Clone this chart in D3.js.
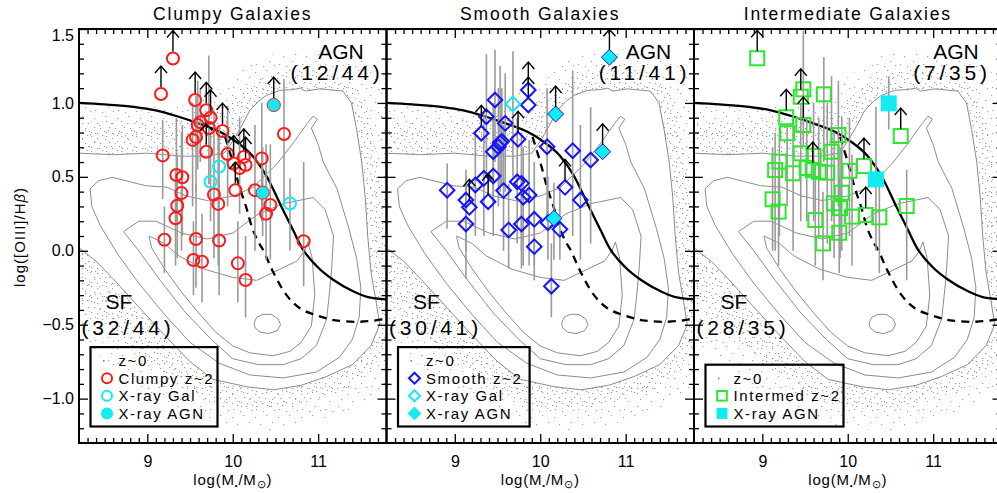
<!DOCTYPE html>
<html><head><meta charset="utf-8">
<script src="https://cdn.jsdelivr.net/npm/d3@7/dist/d3.min.js"></script>
<style>
html,body{margin:0;padding:0;background:#fff;}
svg{display:block;}
text{font-family:"Liberation Sans",Arial,Helvetica,sans-serif;fill:#000;}
</style></head><body>
<svg id="chart" width="997" height="493"></svg>
<script>
// ================= DATA =================
const panelTitles = ["Clumpy Galaxies", "Smooth Galaxies", "Intermediate Galaxies"];
const agnLabels = ["(12/44)", "(11/41)", "(7/35)"];
const sfLabels = ["(32/44)", "(30/41)", "(28/35)"];
const xTickValues = [9, 10, 11];
const xTickLabels = ["9", "10", "11"];
const yTickValues = [-1.0, -0.5, 0.0, 0.5, 1.0, 1.5];
const yTickLabels = ["\u22121.0", "\u22120.5", "0.0", "0.5", "1.0", "1.5"];
const legendLabels = [
  ["z~0", "Clumpy z~2", "X-ray Gal", "X-ray AGN"],
  ["z~0", "Smooth z~2", "X-ray Gal", "X-ray AGN"],
  ["z~0", "Intermed z~2", "X-ray AGN"]];

// MEx demarcation curves
const solidX = [8.2, 8.5, 8.84, 9.1, 9.35, 9.62, 9.85, 10.01, 10.24, 10.40, 10.56, 10.71, 10.81, 10.99, 11.18, 11.42, 11.57, 11.8];
const solidY = [1.0, 0.99, 0.974, 0.95, 0.91, 0.857, 0.805, 0.749, 0.636, 0.501, 0.31, 0.135, 0.02, -0.108, -0.198, -0.277, -0.311, -0.328];
const dashX = [9.91, 10.0, 10.08, 10.16, 10.23, 10.3, 10.36, 10.47, 10.63, 10.79, 11.0, 11.2, 11.5, 11.8];
const dashY = [0.77, 0.6, 0.43, 0.29, 0.15, 0.06, 0.0, -0.14, -0.3, -0.39, -0.44, -0.47, -0.48, -0.46];

// z~0 contours
const c1X = [8.2, 8.6, 9.0, 9.4, 9.7, 9.9, 10.0, 10.1, 10.2, 10.3, 10.39, 10.55, 10.7, 10.79, 10.85, 11.02, 11.29, 11.39, 11.45, 11.51, 11.55, 11.58, 11.62, 11.68, 11.72, 11.62, 11.4, 11.1, 10.8, 10.48, 10.17, 9.77, 9.5, 9.2, 8.9, 8.6, 8.4, 8.2];
const c1Y = [0.66, 0.65, 0.66, 0.64, 0.64, 0.66, 0.74, 0.84, 0.95, 1.01, 1.05, 1.085, 1.09, 1.1, 1.08, 1.095, 1.08, 1.0, 0.82, 0.6, 0.37, 0.1, -0.15, -0.35, -0.5, -0.64, -0.77, -0.85, -0.91, -0.94, -0.92, -0.87, -0.75, -0.57, -0.38, -0.19, -0.07, 0.02];
const c2X = [8.33, 8.43, 8.59, 8.79, 8.98, 9.23, 9.46, 9.7, 10.0, 10.24, 10.52, 10.71, 10.87, 10.94, 10.99, 10.92, 11.0, 11.06, 11.22, 11.36, 11.45, 11.5, 11.48, 11.4, 11.25, 10.98, 10.59, 10.2, 9.84, 9.5, 9.2, 8.9, 8.65, 8.45, 8.35, 8.33];
const c2Y = [0.42, 0.474, 0.497, 0.468, 0.44, 0.43, 0.37, 0.34, 0.37, 0.43, 0.59, 0.73, 0.86, 0.91, 0.89, 0.83, 0.72, 0.6, 0.42, 0.15, -0.05, -0.25, -0.45, -0.6, -0.72, -0.82, -0.86, -0.84, -0.76, -0.62, -0.43, -0.22, -0.02, 0.17, 0.3, 0.42];
const c3X = [8.72, 8.9, 9.1, 9.4, 9.7, 10.0, 10.3, 10.6, 10.94, 11.08, 11.18, 11.16, 11.14, 11.1, 10.98, 10.8, 10.59, 10.3, 10.0, 9.75, 9.45, 9.15, 8.9, 8.72];
const c3Y = [0.13, 0.2, 0.2, 0.12, 0.08, 0.12, 0.25, 0.32, 0.36, 0.28, 0.1, -0.1, -0.24, -0.46, -0.64, -0.73, -0.77, -0.77, -0.73, -0.6, -0.42, -0.2, 0.0, 0.13];
const c4X = [9.02, 9.2, 9.37, 9.67, 10.0, 10.28, 10.55, 10.75, 10.84, 10.88, 10.93, 10.96, 10.92, 10.8, 10.67, 10.47, 10.2, 10.0, 9.8, 9.6, 9.4, 9.2, 9.05, 9.02];
const c4Y = [0.1, 0.05, -0.035, -0.125, -0.18, -0.2, -0.125, -0.07, 0.0, 0.06, -0.05, -0.3, -0.51, -0.62, -0.68, -0.71, -0.69, -0.644, -0.55, -0.42, -0.28, -0.12, 0.02, 0.1];
const c5X = [10.25, 10.28, 10.35, 10.45, 10.53, 10.56, 10.52, 10.42, 10.32, 10.26, 10.25];
const c5Y = [-0.49, -0.45, -0.43, -0.43, -0.46, -0.5, -0.54, -0.56, -0.55, -0.52, -0.49];
// extent of the z~0 point cloud outside the outer contour (dense and sparse parts)
const denseX = [8.2, 8.5, 8.9, 9.3, 9.6, 9.85, 10.0, 10.15, 10.3, 10.5, 10.8, 11.1, 11.35, 11.5, 11.62, 11.7, 11.75, 11.8, 11.8, 11.6, 11.3, 10.9, 10.5, 10.1, 9.7, 9.3, 8.9, 8.5, 8.2];
const denseY = [0.87, 0.88, 0.88, 0.89, 0.9, 0.95, 1.02, 1.1, 1.16, 1.2, 1.22, 1.21, 1.17, 1.08, 0.9, 0.6, 0.3, 0.0, -0.65, -0.82, -0.95, -1.02, -1.06, -1.07, -1.02, -0.88, -0.7, -0.5, -0.35];
const sparseX = [8.2, 8.8, 9.4, 9.8, 10.1, 10.4, 10.8, 11.2, 11.5, 11.7, 11.8, 11.8, 11.5, 11.0, 10.5, 10.0, 9.5, 9.0, 8.6, 8.2];
const sparseY = [0.97, 0.98, 1.0, 1.08, 1.22, 1.32, 1.36, 1.36, 1.3, 1.2, 1.1, -0.9, -1.05, -1.15, -1.22, -1.2, -1.12, -0.95, -0.78, -0.6];

// Clumpy galaxies (type: 0 = galaxy, 1 = X-ray Gal, 2 = X-ray AGN; lim: 1 = lower limit)
const clumpyX = [9.30, 9.16, 9.56, 9.69, 9.74, 9.59, 9.72, 9.88, 9.57, 9.53, 9.69, 9.18, 9.94, 10.01, 10.13, 10.15, 10.34, 10.60, 9.34, 9.41, 9.40, 9.35, 9.33, 9.78, 9.83, 10.03, 10.26, 10.44, 10.39, 9.20, 9.57, 9.84, 10.83, 9.54, 9.64, 10.06, 10.15, 9.62, 10.08, 9.84, 9.74, 10.67, 10.48, 10.35];
const clumpyY = [1.30, 1.06, 1.02, 0.95, 0.90, 0.85, 0.83, 0.81, 0.77, 0.75, 0.67, 0.645, 0.655, 0.59, 0.635, 0.58, 0.625, 0.79, 0.513, 0.497, 0.39, 0.305, 0.22, 0.38, 0.317, 0.41, 0.41, 0.31, 0.25, 0.075, 0.08, 0.07, 0.065, -0.062, -0.074, -0.085, -0.198, 0.87, 0.56, 0.57, 0.467, 0.32, 0.986, 0.393];
const clumpyLo = [null, null, null, null, null, 0.55, 0.45, null, 0.40, 0.30, null, 0.35, 0.30, null, null, null, 0.20, 0.30, 0.20, 0.10, 0.00, -0.05, -0.10, -0.05, -0.10, null, 0.00, -0.06, -0.06, -0.15, -0.25, -0.30, -0.24, -0.30, -0.35, -0.35, -0.45, 0.60, 0.25, 0.30, 0.20, 0.00, null, 0.10];
const clumpyHi = [null, null, null, null, null, 1.15, 1.32, null, 1.05, 1.00, null, 0.88, 0.98, null, null, null, 1.00, 1.16, 0.90, 0.85, 0.80, 0.65, 0.55, 0.95, 0.80, null, 0.85, 0.72, 0.72, 0.30, 0.45, 0.50, 0.60, 0.20, 0.25, 0.20, 0.10, 1.10, 0.90, 0.85, 0.80, 0.49, null, 0.70];
const clumpyLim = [1, 1, 1, 1, 1, 0, 0, 1, 0, 0, 1, 0, 0, 1, 1, 1, 0, 0, 0, 0, 0, 0, 0, 0, 0, 1, 0, 0, 0, 0, 0, 0, 0, 0, 0, 0, 0, 0, 0, 0, 0, 0, 1, 0];
const clumpyType = [0, 0, 0, 0, 0, 0, 0, 0, 0, 0, 0, 0, 0, 0, 0, 0, 0, 0, 0, 0, 0, 0, 0, 0, 0, 0, 0, 0, 0, 0, 0, 0, 0, 0, 0, 0, 0, 0, 0, 1, 1, 1, 2, 2];

// Smooth galaxies
const smoothX = [10.81, 9.86, 9.47, 9.68, 9.86, 10.18, 9.37, 9.59, 9.31, 9.74, 9.53, 9.51, 9.45, 10.08, 10.38, 10.73, 10.59, 9.45, 9.34, 9.24, 8.91, 9.13, 9.17, 9.39, 9.57, 9.73, 9.78, 9.80, 9.87, 10.29, 10.47, 9.13, 9.63, 9.78, 9.93, 10.16, 10.09, 10.23, 9.93, 10.13, 9.55];
const smoothY = [1.309, 1.087, 1.02, 0.993, 0.986, 0.925, 0.907, 0.862, 0.795, 0.754, 0.731, 0.704, 0.670, 0.704, 0.677, 0.670, 0.614, 0.506, 0.49, 0.445, 0.41, 0.343, 0.294, 0.332, 0.407, 0.467, 0.456, 0.362, 0.377, 0.429, 0.343, 0.181, 0.141, 0.181, 0.213, 0.220, 0.19, 0.145, 0.028, -0.24, 0.74];
const smoothLo = [null, null, 0.60, 0.50, null, null, 0.50, 0.40, null, null, 0.40, 0.30, 0.30, 0.20, 0.10, null, 0.05, 0.10, 0.10, 0.10, 0.15, 0.00, null, null, 0.00, 0.05, 0.00, -0.10, -0.10, null, -0.06, -0.19, -0.12, -0.12, -0.10, -0.06, -0.06, -0.06, -0.20, -0.45, 0.45];
const smoothHi = [null, null, 1.36, 1.35, null, null, 1.33, 1.20, null, null, 1.25, 1.10, 1.00, 1.10, 1.22, null, 0.97, 0.90, 0.95, 0.80, 0.59, 0.55, null, null, 0.85, 0.90, 0.80, 0.70, 0.75, null, 0.85, 0.50, 0.45, 0.55, 0.60, 0.46, 0.50, 0.45, 0.30, 0.05, 1.10];
const smoothLim = [1, 1, 0, 0, 1, 1, 0, 0, 1, 1, 0, 0, 0, 0, 0, 1, 0, 0, 0, 0, 0, 0, 1, 1, 0, 0, 0, 0, 0, 1, 0, 0, 0, 0, 0, 0, 0, 0, 0, 0, 0];
const smoothType = [2, 0, 0, 1, 0, 2, 0, 0, 0, 0, 0, 0, 0, 0, 0, 2, 0, 0, 0, 0, 0, 0, 0, 0, 0, 0, 0, 0, 0, 0, 0, 0, 0, 0, 0, 2, 0, 0, 0, 0, 0];

// Intermediate galaxies
const interX = [8.94, 9.48, 9.45, 9.72, 10.48, 9.28, 9.48, 9.29, 9.89, 10.62, 9.45, 9.81, 9.60, 9.20, 9.15, 9.36, 9.59, 9.66, 9.76, 10.02, 10.19, 10.33, 9.12, 9.19, 9.93, 9.84, 9.91, 10.05, 10.21, 10.37, 10.69, 9.62, 9.90, 9.71, 9.52];
const interY = [1.302, 1.092, 1.042, 1.058, 0.997, 0.903, 0.851, 0.795, 0.783, 0.776, 0.659, 0.670, 0.641, 0.603, 0.546, 0.524, 0.546, 0.535, 0.528, 0.541, 0.573, 0.483, 0.348, 0.265, 0.393, 0.321, 0.288, 0.231, 0.242, 0.226, 0.303, 0.208, 0.122, 0.05, 0.56];
const interLo = [null, 0.70, null, 0.60, 0.82, null, null, 0.30, 0.30, null, 0.20, 0.20, 0.20, 0.10, 0.00, 0.00, null, 0.10, 0.05, 0.10, null, 0.00, 0.00, -0.10, 0.00, -0.05, -0.05, -0.10, null, -0.15, -0.20, -0.10, -0.15, -0.20, 0.20];
const interHi = [null, 1.49, null, 1.31, 1.18, null, null, 0.84, 1.15, null, 1.00, 1.18, 1.00, 0.84, 0.80, 0.90, null, 0.90, 1.00, 0.90, null, 0.975, 0.70, 0.60, 0.90, 0.80, 0.70, 0.65, null, 0.50, 0.546, 0.60, 0.50, 0.40, 0.90];
const interLim = [1, 0, 1, 0, 0, 1, 1, 0, 0, 1, 0, 0, 0, 0, 0, 0, 1, 0, 0, 0, 1, 0, 0, 0, 0, 0, 0, 0, 1, 0, 0, 0, 0, 0, 0];
const interType = [0, 0, 0, 0, 2, 0, 0, 0, 0, 0, 0, 0, 0, 0, 0, 0, 0, 0, 0, 0, 0, 2, 0, 0, 0, 0, 0, 0, 0, 0, 0, 0, 0, 0, 0];

// ================= LAYOUT / STYLE =================
const PL = [79, 386.5, 694], PW = 307.5, TOP = 29, BOT = 443;
const CYAN = "#12ecf0";
const panels = [
  {X: clumpyX, Y: clumpyY, lo: clumpyLo, hi: clumpyHi, lim: clumpyLim, type: clumpyType, shape: "circle", color: "#ff1a1a", box: 127},
  {X: smoothX, Y: smoothY, lo: smoothLo, hi: smoothHi, lim: smoothLim, type: smoothType, shape: "diamond", color: "#1414ff", box: 131.6},
  {X: interX, Y: interY, lo: interLo, hi: interHi, lim: interLim, type: interType, shape: "square", color: "#2ee62e", box: 138}
];

const svg = d3.select("#chart");
svg.append("rect").attr("width", 997).attr("height", 493).attr("fill", "#fff");
const defs = svg.append("defs");

function makePattern(id, size, pts, col) {
  const p = defs.append("pattern").attr("id", id).attr("patternUnits", "userSpaceOnUse")
    .attr("width", size).attr("height", size);
  pts.forEach(([a, b]) => p.append("rect").attr("x", a).attr("y", b).attr("width", 1.2).attr("height", 1.1).attr("fill", col));
}
makePattern("densePat", 15, [[1,1],[7,3],[12,0],[4,7],[10,8],[14,11],[1,12],[7,13]], "#9a9a9a");
makePattern("sparsePat", 23, [[2,3],[13,1],[19,8],[7,10],[16,15],[3,18],[10,20],[21,19]], "#a0a0a0");

function drawMarker(g, shape, cx, cy, kind, color) {
  // kind 0: open, 1: open cyan, 2: filled cyan
  const stroke = kind === 0 ? color : (kind === 1 ? CYAN : (shape === "square" ? "none" : color));
  const fill = kind === 2 ? CYAN : "none";
  const sw = kind === 2 ? 1 : 2;
  if (shape === "circle") {
    g.append("circle").attr("cx", cx).attr("cy", cy).attr("r", kind === 2 ? 6.6 : 6)
      .attr("fill", fill).attr("stroke", stroke).attr("stroke-width", sw);
  } else if (shape === "diamond") {
    const s = kind === 2 ? 8 : 7.3;
    g.append("path").attr("d", `M${cx},${cy - s}L${cx + s},${cy}L${cx},${cy + s}L${cx - s},${cy}Z`)
      .attr("fill", fill).attr("stroke", stroke).attr("stroke-width", sw);
  } else {
    const s = kind === 2 ? 8 : 7;
    g.append("rect").attr("x", cx - s).attr("y", cy - s).attr("width", 2 * s).attr("height", 2 * s)
      .attr("fill", fill).attr("stroke", stroke).attr("stroke-width", sw);
  }
}

panels.forEach((P, i) => {
  const L = PL[i];
  const x = d3.scaleLinear().domain([8.2, 11.8]).range([L, L + PW]);
  const y = d3.scaleLinear().domain([-1.3, 1.5]).range([BOT, TOP]);
  defs.append("clipPath").attr("id", "clip" + i).append("rect")
    .attr("x", L).attr("y", TOP).attr("width", PW).attr("height", BOT - TOP);
  const g = svg.append("g").attr("clip-path", `url(#clip${i})`);
  const pts = (xs, ys) => xs.map((v, k) => [x(v), y(ys[k])]);
  const lin = d3.line();

  // z~0 point cloud (stipple between outer contour and cloud extent)
  g.append("path").attr("d", lin(pts(sparseX, sparseY)) + "Z" + lin(pts(c1X, c1Y)) + "Z")
    .attr("fill", "url(#sparsePat)").attr("fill-rule", "evenodd");
  g.append("path").attr("d", lin(pts(denseX, denseY)) + "Z" + lin(pts(c1X, c1Y)) + "Z")
    .attr("fill", "url(#densePat)").attr("fill-rule", "evenodd");

  // contours
  [[c1X, c1Y], [c2X, c2Y], [c3X, c3Y], [c4X, c4Y], [c5X, c5Y]].forEach(([cx, cy]) => {
    g.append("path").attr("d", lin(pts(cx, cy))).attr("fill", "none")
      .attr("stroke", "#8c8c8c").attr("stroke-width", 1);
  });

  // demarcation lines
  g.append("path").attr("d", d3.line().curve(d3.curveMonotoneX)(pts(solidX, solidY)))
    .attr("fill", "none").attr("stroke", "#000").attr("stroke-width", 2.3);
  g.append("path").attr("d", d3.line().curve(d3.curveCatmullRom)(pts(dashX, dashY)))
    .attr("fill", "none").attr("stroke", "#000").attr("stroke-width", 2.3).attr("stroke-dasharray", "8,6");

  // error bars
  P.X.forEach((v, k) => {
    if (P.lo[k] === null) return;
    g.append("line").attr("x1", x(v)).attr("x2", x(v)).attr("y1", y(P.lo[k])).attr("y2", y(P.hi[k]))
      .attr("stroke", "#9a9a9a").attr("stroke-width", 1.6);
  });
  // markers (galaxies first, X-ray on top)
  [0, 1, 2].forEach(kind => {
    P.X.forEach((v, k) => {
      if (P.type[k] !== kind) return;
      drawMarker(g, P.shape, x(v), y(P.Y[k]), kind, P.color);
    });
  });
  // lower-limit arrows
  P.X.forEach((v, k) => {
    if (!P.lim[k]) return;
    const cx = x(v), cy = y(P.Y[k]);
    g.append("path").attr("d", `M${cx},${cy - 7}L${cx},${cy - 28}M${cx - 6},${cy - 21}L${cx},${cy - 28}L${cx + 6},${cy - 21}`)
      .attr("fill", "none").attr("stroke", "#000").attr("stroke-width", 1.4);
  });

  // axes ticks
  const xMinor = d3.range(83, 118).map(d => d / 10).filter(d => Math.abs(d - Math.round(d)) > 1e-6);
  const yMinor = d3.range(-12, 15).map(d => d / 10).filter(d => Math.abs(d * 2 - Math.round(d * 2)) > 1e-6);
  const styleAxis = sel => { sel.select(".domain").remove(); sel.selectAll("line").attr("stroke", "#000").attr("stroke-width", 1.3); };
  svg.append("g").attr("transform", `translate(0,${BOT})`)
    .call(d3.axisBottom(x).tickValues(xMinor).tickSize(-5).tickFormat("")).call(styleAxis);
  svg.append("g").attr("transform", `translate(0,${TOP})`)
    .call(d3.axisTop(x).tickValues(xMinor).tickSize(-5).tickFormat("")).call(styleAxis);
  svg.append("g").attr("transform", `translate(0,${TOP})`)
    .call(d3.axisTop(x).tickValues(xTickValues).tickSize(-9).tickFormat("")).call(styleAxis);
  const xb = svg.append("g").attr("transform", `translate(0,${BOT})`)
    .call(d3.axisBottom(x).tickValues(xTickValues).tickSize(-9).tickPadding(13)
      .tickFormat((d, j) => xTickLabels[j])).call(styleAxis);
  xb.selectAll("text").attr("font-size", 16).attr("font-family", "Liberation Sans, Arial, sans-serif").attr("fill", "#000");

  svg.append("g").attr("transform", `translate(${L},0)`)
    .call(d3.axisLeft(y).tickValues(yMinor).tickSize(-5).tickFormat("")).call(styleAxis);
  svg.append("g").attr("transform", `translate(${L + PW},0)`)
    .call(d3.axisRight(y).tickValues(yMinor).tickSize(-5).tickFormat("")).call(styleAxis);
  svg.append("g").attr("transform", `translate(${L + PW},0)`)
    .call(d3.axisRight(y).tickValues(yTickValues).tickSize(-9).tickFormat("")).call(styleAxis);
  const yl = svg.append("g").attr("transform", `translate(${L},0)`)
    .call(d3.axisLeft(y).tickValues(yTickValues).tickSize(-9).tickPadding(5)
      .tickFormat((d, j) => i === 0 ? yTickLabels[j] : "")).call(styleAxis);
  yl.selectAll("text").attr("font-size", 16).attr("font-family", "Liberation Sans, Arial, sans-serif").attr("fill", "#000")
    .attr("dy", d => d === 1.5 ? "0.7em" : "0.32em");

  // frame
  svg.append("rect").attr("x", L).attr("y", TOP).attr("width", PW).attr("height", BOT - TOP)
    .attr("fill", "none").attr("stroke", "#000").attr("stroke-width", 2);

  // titles and labels
  svg.append("text").attr("x", L + PW / 2).attr("y", 20).attr("text-anchor", "middle")
    .attr("font-size", 17.5).attr("letter-spacing", 1.8).text(panelTitles[i]);
  svg.append("text").attr("x", L + 262).attr("y", 59).attr("text-anchor", "middle")
    .attr("font-size", 21).text("AGN");
  svg.append("text").attr("x", L + 258).attr("y", 80).attr("text-anchor", "middle")
    .attr("font-size", 21).attr("letter-spacing", 3.8).text(agnLabels[i]);
  svg.append("text").attr("x", L + 40).attr("y", 309).attr("text-anchor", "middle")
    .attr("font-size", 21).text("SF");
  svg.append("text").attr("x", L + 49).attr("y", 335).attr("text-anchor", "middle")
    .attr("font-size", 21).attr("letter-spacing", 3.8).text(sfLabels[i]);

  // x-axis title
  const xt = svg.append("text").attr("x", L + PW / 2).attr("y", 485).attr("text-anchor", "middle")
    .attr("font-size", 15).attr("letter-spacing", 0.8);
  xt.append("tspan").text("log(M");
  xt.append("tspan").attr("font-size", 8).attr("dy", 3).text("\u2022");
  xt.append("tspan").attr("dy", -3).text("/M");
  xt.append("tspan").attr("font-size", 11).attr("dy", 3).text("\u2299");
  xt.append("tspan").attr("dy", -3).text(")");

  // legend
  const labs = legendLabels[i];
  const y0 = 426.5 - labs.length * 17.6 - 9;
  svg.append("rect").attr("x", L + 11.5).attr("y", y0).attr("width", P.box).attr("height", 426.5 - y0)
    .attr("fill", "none").attr("stroke", "#000").attr("stroke-width", 2.2);
  labs.forEach((t, j) => {
    const cy = y0 + 13.5 + j * 17.6;
    const mx = L + 28;
    if (j === 0) {
      svg.append("rect").attr("x", mx - 4).attr("y", cy - 0.5).attr("width", 1.5).attr("height", 1.5).attr("fill", "#777");
    } else {
      const kind = t.startsWith("X-ray Gal") ? 1 : (t.startsWith("X-ray AGN") ? 2 : 0);
      const lg = svg.append("g");
      if (P.shape === "circle") {
        lg.append("circle").attr("cx", mx).attr("cy", cy).attr("r", 5)
          .attr("fill", kind === 2 ? CYAN : "none").attr("stroke", kind === 0 ? P.color : CYAN).attr("stroke-width", 2);
      } else if (P.shape === "diamond") {
        const s = 5.5;
        lg.append("path").attr("d", `M${mx},${cy - s}L${mx + s},${cy}L${mx},${cy + s}L${mx - s},${cy}Z`)
          .attr("fill", kind === 2 ? CYAN : "none").attr("stroke", kind === 0 ? P.color : CYAN).attr("stroke-width", 2);
      } else {
        const s = kind === 2 ? 5.5 : 4.8;
        lg.append("rect").attr("x", mx - s).attr("y", cy - s).attr("width", 2 * s).attr("height", 2 * s)
          .attr("fill", kind === 2 ? CYAN : "none").attr("stroke", kind === 0 ? P.color : "none").attr("stroke-width", 2);
      }
    }
    svg.append("text").attr("x", L + 39.5).attr("y", cy + 5.5).attr("font-size", 15)
      .attr("letter-spacing", 1.6).text(t);
  });
});

// y-axis title
const yt = svg.append("text").attr("transform", "translate(25,237) rotate(-90)").attr("text-anchor", "middle")
  .attr("font-size", 15).attr("letter-spacing", 1);
yt.append("tspan").text("log([OIII]/H");
yt.append("tspan").attr("font-style", "italic").text("\u03b2");
yt.append("tspan").text(")");
</script>
</body></html>
